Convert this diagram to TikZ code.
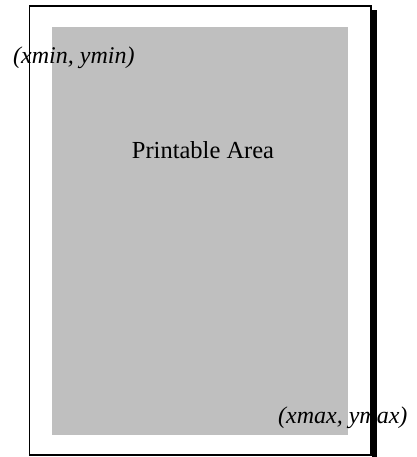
\documentclass[tikz,border=0pt]{standalone}
\usepackage{fontspec}
\setmainfont{Liberation Serif}
\begin{document}
\begin{tikzpicture}[x=1pt,y=-1pt,
  pageborder/.style={draw=black,line width=1.5pt},
  printarea/.style={fill=black!25},
  cornerlabel/.style={inner sep=0pt,font=\fontsize{24}{28}\selectfont\itshape},
  arealabel/.style={inner sep=0pt,font=\fontsize{24.5}{29}\selectfont}]
  \useasboundingbox (0,0) rectangle (416,457);
  % printable region of the sheet
  \fill[printarea] (52,27) rectangle (348,435);
  \node[arealabel,anchor=base] (area) at (203,158) {Printable Area};
  % corner coordinates
  \node[cornerlabel,anchor=base west] (minc) at (13,64) {(xmin, ymin)};
  \node[cornerlabel,anchor=base west] (maxc) at (278,423) {(xmax, ymax)};
  % sheet outline with its drop shadow
  \draw[pageborder] (29.5,6) rectangle (371,455);
  \fill[black] (371.5,10) rectangle (377,460);
\end{tikzpicture}
\end{document}
